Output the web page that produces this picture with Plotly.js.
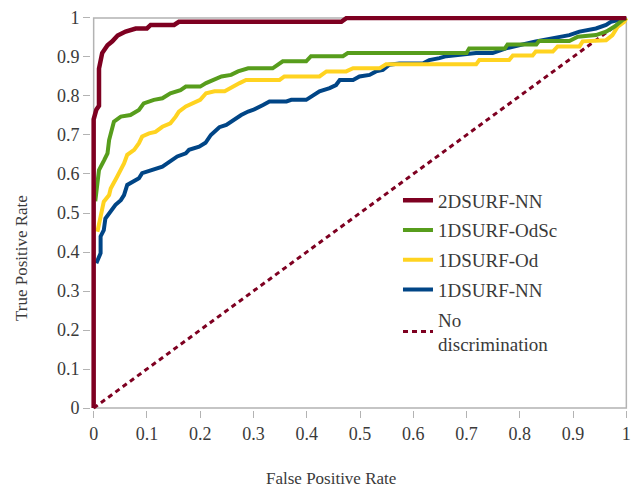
<!DOCTYPE html>
<html>
<head>
<meta charset="utf-8">
<script src="https://cdn.plot.ly/plotly-3.0.1.min.js"></script>
<style>html,body{margin:0;padding:0;background:#fff;}#chart{width:637px;height:488px;}</style>
</head>
<body>
<div id="chart"></div>
<script>
// 2DSURF-NN
const nn2dX = [0, 0, 0.005, 0.01, 0.01, 0.016, 0.026, 0.035, 0.045, 0.06, 0.079, 0.1, 0.107, 0.151, 0.16, 0.465, 0.475, 1];
const nn2dY = [0, 0.74, 0.765, 0.775, 0.87, 0.91, 0.93, 0.94, 0.955, 0.965, 0.973, 0.973, 0.982, 0.982, 0.99, 0.99, 1, 1];
// 1DSURF-OdSc
const odscX = [0.003, 0.01, 0.02, 0.026, 0.029, 0.032, 0.038, 0.051, 0.069, 0.085, 0.094, 0.113, 0.129, 0.144, 0.163, 0.173, 0.2, 0.211, 0.227, 0.24, 0.258, 0.271, 0.29, 0.336, 0.355, 0.399, 0.408, 0.468, 0.477, 0.70, 0.705, 0.772, 0.777, 0.831, 0.836, 0.893, 0.909, 0.943, 0.962, 0.978, 0.993, 1];
const odscY = [0.53, 0.61, 0.636, 0.653, 0.687, 0.704, 0.734, 0.747, 0.751, 0.764, 0.781, 0.79, 0.794, 0.807, 0.815, 0.824, 0.824, 0.833, 0.841, 0.85, 0.854, 0.863, 0.871, 0.871, 0.889, 0.889, 0.902, 0.902, 0.91, 0.91, 0.922, 0.922, 0.932, 0.932, 0.941, 0.941, 0.952, 0.956, 0.965, 0.978, 0.995, 1];
// 1DSURF-Od
const odX = [0.007, 0.013, 0.019, 0.029, 0.032, 0.044, 0.057, 0.063, 0.076, 0.085, 0.091, 0.104, 0.116, 0.129, 0.144, 0.154, 0.16, 0.173, 0.185, 0.2, 0.211, 0.227, 0.246, 0.261, 0.274, 0.286, 0.349, 0.358, 0.424, 0.437, 0.474, 0.487, 0.537, 0.549, 0.718, 0.724, 0.78, 0.787, 0.824, 0.83, 0.862, 0.871, 0.912, 0.918, 0.962, 0.974, 0.984, 0.996, 1];
const odY = [0.452, 0.495, 0.529, 0.546, 0.563, 0.593, 0.627, 0.649, 0.662, 0.679, 0.696, 0.704, 0.708, 0.721, 0.73, 0.747, 0.76, 0.773, 0.781, 0.79, 0.807, 0.812, 0.812, 0.824, 0.833, 0.841, 0.841, 0.85, 0.85, 0.863, 0.863, 0.871, 0.871, 0.881, 0.881, 0.892, 0.892, 0.904, 0.904, 0.914, 0.914, 0.927, 0.927, 0.94, 0.943, 0.956, 0.978, 0.99, 1];
// 1DSURF-NN
const nn1dX = [0.005, 0.013, 0.013, 0.019, 0.022, 0.032, 0.041, 0.051, 0.057, 0.063, 0.073, 0.085, 0.091, 0.104, 0.116, 0.129, 0.138, 0.148, 0.157, 0.173, 0.179, 0.198, 0.21, 0.22, 0.236, 0.249, 0.261, 0.277, 0.29, 0.299, 0.318, 0.33, 0.362, 0.371, 0.399, 0.412, 0.424, 0.443, 0.455, 0.462, 0.487, 0.499, 0.518, 0.53, 0.543, 0.555, 0.574, 0.618, 0.63, 0.649, 0.662, 0.718, 0.749, 0.774, 0.83, 0.893, 0.912, 0.943, 0.962, 0.971, 1];
const nn1dY = [0.371, 0.397, 0.44, 0.456, 0.486, 0.503, 0.521, 0.533, 0.546, 0.572, 0.58, 0.589, 0.602, 0.607, 0.614, 0.619, 0.627, 0.636, 0.645, 0.653, 0.662, 0.67, 0.68, 0.70, 0.72, 0.726, 0.738, 0.751, 0.76, 0.764, 0.777, 0.786, 0.786, 0.79, 0.79, 0.803, 0.812, 0.82, 0.828, 0.841, 0.841, 0.85, 0.854, 0.863, 0.867, 0.88, 0.883, 0.883, 0.892, 0.897, 0.902, 0.91, 0.91, 0.922, 0.94, 0.956, 0.965, 0.973, 0.982, 0.99, 1];
// No discrimination
const diagX = [0, 1];
const diagY = [0, 1];

const seriesNames = ["2DSURF-NN", "1DSURF-OdSc", "1DSURF-Od", "1DSURF-NN", "No<br>discrimination"];
const xTicks = [0, 0.1, 0.2, 0.3, 0.4, 0.5, 0.6, 0.7, 0.8, 0.9, 1];
const yTicks = [0, 0.1, 0.2, 0.3, 0.4, 0.5, 0.6, 0.7, 0.8, 0.9, 1];

const FONT = 'Liberation Serif, serif';
const GRAY = '#b3b3b3';
const TXT = '#3a3a3a';

function line(x, y, name, color, width, rank, dash) {
  return {
    x: x, y: y, name: name, type: 'scatter', mode: 'lines',
    line: {color: color, width: width, dash: dash || 'solid'},
    legendrank: rank, legendgroup: 'g' + rank, hoverinfo: 'skip'
  };
}

const traces = [
  line(diagX, diagY, seriesNames[4], '#7e0021', 3, 5, '5px,4px'),
  line(nn1dX, nn1dY, seriesNames[3], '#004586', 4, 4),
  line(odX, odY, seriesNames[2], '#ffd320', 4, 3),
  line(odscX, odscY, seriesNames[1], '#579d1c', 4, 2),
  line(nn2dX, nn2dY, seriesNames[0], '#7e0021', 4.5, 1)
];

const layout = {
  width: 637, height: 488,
  margin: {l: 91, r: 8, t: 16, b: 78},
  paper_bgcolor: '#ffffff', plot_bgcolor: '#ffffff',
  font: {family: FONT, size: 18, color: TXT},
  showlegend: true,
  legend: {
    x: 0.5706, y: 0.58, xanchor: 'left', yanchor: 'top',
    font: {family: FONT, size: 19, color: TXT},
    bgcolor: 'rgba(0,0,0,0)', borderwidth: 0,
    traceorder: 'grouped', tracegroupgap: 2
  },
  xaxis: {
    range: [-0.005, 1.005], tickvals: xTicks, ticktext: xTicks.map(String),
    showgrid: false, zeroline: false, showline: false,
    ticks: 'outside', ticklen: 7, tickcolor: GRAY, tickwidth: 1,
    tickfont: {family: FONT, size: 18, color: TXT}
  },
  yaxis: {
    range: [-0.005, 1.005], tickvals: yTicks, ticktext: yTicks.map(String),
    showgrid: false, zeroline: false, showline: false,
    ticks: 'outside', ticklen: 7, tickcolor: GRAY, tickwidth: 1,
    tickfont: {family: FONT, size: 18, color: TXT}
  },
  shapes: [{
    type: 'rect', xref: 'x', yref: 'y', x0: 0, y0: 0, x1: 1, y1: 1,
    line: {color: GRAY, width: 1.5}, layer: 'below'
  }],
  annotations: [
    {text: 'False Positive Rate', xref: 'paper', yref: 'paper', x: 0.446, y: -0.1726,
     xanchor: 'center', yanchor: 'middle', showarrow: false,
     font: {family: FONT, size: 17, color: TXT}},
    {text: 'True Positive Rate', xref: 'paper', yref: 'paper', x: -0.128, y: 0.386,
     xanchor: 'center', yanchor: 'middle', showarrow: false, textangle: -90,
     font: {family: FONT, size: 17, color: TXT}}
  ]
};

Plotly.newPlot('chart', traces, layout, {staticPlot: true, displayModeBar: false});
</script>
</body>
</html>
